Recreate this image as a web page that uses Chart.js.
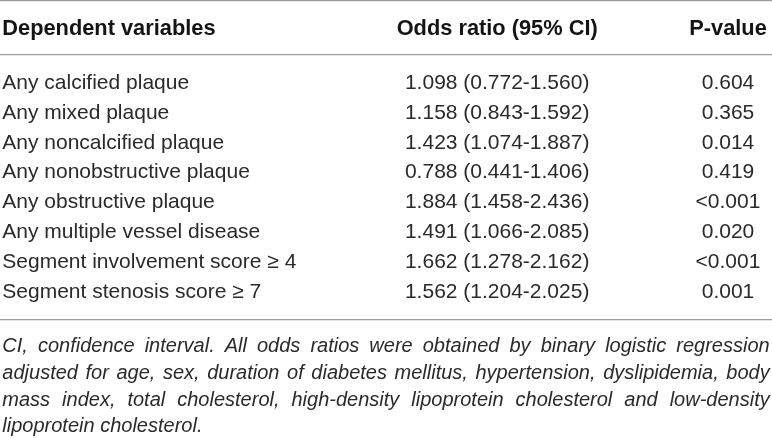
<!DOCTYPE html>
<html>
<head>
<meta charset="utf-8">
<script src="https://cdn.jsdelivr.net/npm/chart.js@4"></script>
<style>
  html, body { margin: 0; padding: 0; background: #fff; }
  canvas { display: block; }
</style>
</head>
<body>
<canvas id="oddsTable" width="772" height="438"></canvas>
<script>
// table content
const headers = ['Dependent variables', 'Odds ratio (95% CI)', 'P-value'];
const rowLabels = [
  'Any calcified plaque',
  'Any mixed plaque',
  'Any noncalcified plaque',
  'Any nonobstructive plaque',
  'Any obstructive plaque',
  'Any multiple vessel disease',
  'Segment involvement score \u2265 4',
  'Segment stenosis score \u2265 7'
];
const oddsRatio = [1.098, 1.158, 1.423, 0.788, 1.884, 1.491, 1.662, 1.562];
const ciLower = [0.772, 0.843, 1.074, 0.441, 1.458, 1.066, 1.278, 1.204];
const ciUpper = [1.560, 1.592, 1.887, 1.406, 2.436, 2.085, 2.162, 2.025];
const pValues = ['0.604', '0.365', '0.014', '0.419', '<0.001', '0.020', '<0.001', '0.001'];
const footnoteLines = [
  'CI, confidence interval. All odds ratios were obtained by binary logistic regression',
  'adjusted for age, sex, duration of diabetes mellitus, hypertension, dyslipidemia, body',
  'mass index, total cholesterol, high-density lipoprotein cholesterol and low-density',
  'lipoprotein cholesterol.'
];

// layout in scale units (x: % of table width, y: row index)
const colAnchor = [0.3, 64.4, 94.3];
const colAlign = ['left', 'center', 'center'];
const headerLevel = -1.81;
const ruleLevels = [-2.74, -0.94, 7.93];
const footLevels = [8.82, 9.71, 10.6, 11.47];

const bodyFont = '21px "Liberation Sans", Arial, sans-serif';
const headFont = 'bold 21.8px "Liberation Sans", Arial, sans-serif';
const footFont = 'italic 20px "Liberation Sans", Arial, sans-serif';

const orText = oddsRatio.map((v, i) =>
  v.toFixed(3) + ' (' + ciLower[i].toFixed(3) + '-' + ciUpper[i].toFixed(3) + ')');
const columns = [rowLabels, orText, pValues];

const tableText = {
  id: 'tableText',
  afterDatasetsDraw(chart) {
    const ctx = chart.ctx;
    const xs = chart.scales.x, ys = chart.scales.y;
    ctx.save();
    ctx.textBaseline = 'middle';

    // header
    ctx.font = headFont;
    ctx.fillStyle = '#141414';
    headers.forEach((h, c) => {
      ctx.textAlign = colAlign[c];
      ctx.fillText(h, xs.getPixelForValue(colAnchor[c]), ys.getPixelForValue(headerLevel));
    });

    // cells, placed at each dataset point
    ctx.font = bodyFont;
    ctx.fillStyle = '#2a2a2a';
    chart.data.datasets.forEach((ds, di) => {
      ctx.textAlign = colAlign[di];
      chart.getDatasetMeta(di).data.forEach((pt, i) => {
        ctx.fillText(ds.texts[i], pt.x, pt.y);
      });
    });

    // footnote, justified except last line
    ctx.font = footFont;
    ctx.textAlign = 'left';
    const left = xs.getPixelForValue(0.3);
    const right = xs.getPixelForValue(99.7);
    footnoteLines.forEach((line, k) => {
      const yPix = ys.getPixelForValue(footLevels[k]);
      const words = line.split(' ');
      if (k === footnoteLines.length - 1) {
        ctx.fillText(line, left, yPix);
        return;
      }
      const widths = words.map(w => ctx.measureText(w).width);
      const total = widths.reduce((a, b) => a + b, 0);
      const gap = (right - left - total) / (words.length - 1);
      let xPos = left;
      words.forEach((w, j) => {
        ctx.fillText(w, xPos, yPix);
        xPos += widths[j] + gap;
      });
    });
    ctx.restore();
  }
};

new Chart(document.getElementById('oddsTable'), {
  type: 'scatter',
  data: {
    datasets: columns.map((col, c) => ({
      data: col.map((_, i) => ({ x: colAnchor[c], y: i })),
      texts: col,
      pointRadius: 0,
      pointHoverRadius: 0
    }))
  },
  options: {
    responsive: false,
    animation: false,
    events: [],
    layout: { padding: 0 },
    plugins: { legend: { display: false }, tooltip: { enabled: false } },
    scales: {
      x: { type: 'linear', min: 0, max: 100, display: false },
      y: {
        type: 'linear',
        reverse: true,
        min: -2.776,
        max: 11.873,
        afterBuildTicks: axis => { axis.ticks = ruleLevels.map(v => ({ value: v })); },
        ticks: { display: false, padding: 0 },
        border: { display: false },
        grid: { color: '#9c9c9c', lineWidth: 1.3, drawTicks: false, tickLength: 0 }
      }
    }
  },
  plugins: [tableText]
});
</script>
</body>
</html>
